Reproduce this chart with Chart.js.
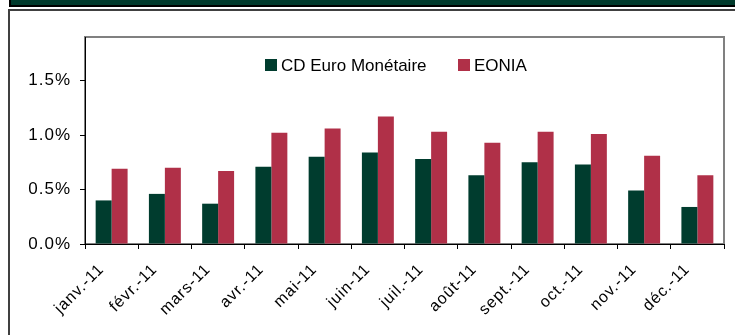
<!DOCTYPE html>
<html>
<head>
<meta charset="utf-8">
<script src="https://cdn.jsdelivr.net/npm/chart.js@4"></script>
<style>
  html, body { margin: 0; padding: 0; background: #ffffff; }
  canvas { display: block; }
</style>
</head>
<body>
<canvas id="c" width="735" height="335"></canvas>
<script>
// Monthly average rates, 2011 (in %)
const months = ['janv.-11', 'févr.-11', 'mars-11', 'avr.-11', 'mai-11', 'juin-11',
                'juil.-11', 'août-11', 'sept.-11', 'oct.-11', 'nov.-11', 'déc.-11'];
const cdEuroMonetaire = [0.40, 0.46, 0.37, 0.71, 0.80, 0.84, 0.78, 0.63, 0.75, 0.73, 0.49, 0.34];
const eonia          = [0.69, 0.70, 0.67, 1.02, 1.06, 1.17, 1.03, 0.93, 1.03, 1.01, 0.81, 0.63];
const yTickValues = [0, 0.5, 1.0, 1.5];
const seriesNames = ['CD Euro Monétaire', 'EONIA'];

const GREEN = '#003c2e';
const RED = '#b03048';
const FONT = '"Liberation Sans", Arial, sans-serif';

// Page decoration: header band, outer frame and plot-area frame
const framePlugin = {
  id: 'frames',
  beforeDraw(chart) {
    const ctx = chart.ctx;
    const a = chart.chartArea;
    ctx.save();
    // header band
    ctx.fillStyle = '#000000';
    ctx.fillRect(9, 0, chart.width - 9, 7);
    ctx.fillStyle = '#003a2c';
    ctx.fillRect(11, 0, chart.width - 11, 5);
    // outer frame (open to the right and bottom)
    ctx.strokeStyle = '#404040';
    ctx.lineWidth = 2;
    ctx.beginPath();
    ctx.moveTo(chart.width, 10);
    ctx.lineTo(9, 10);
    ctx.lineTo(9, chart.height);
    ctx.stroke();
    // plot area frame
    ctx.strokeStyle = '#808080';
    ctx.lineWidth = 2;
    ctx.strokeRect(a.left, a.top, a.right - a.left, a.bottom - a.top);
    ctx.restore();
    // wider character spacing for the axis labels
    ctx.letterSpacing = '1px';
  },
  beforeDatasetsDraw(chart) {
    chart.ctx.letterSpacing = '0px';
  }
};

// Legend drawn inside the plot area, from the dataset labels and colours
const innerLegend = {
  id: 'innerLegend',
  afterDatasetsDraw(chart) {
    const ctx = chart.ctx;
    const ds = chart.data.datasets;
    const starts = [265, 458];
    const y = 65;
    ctx.save();
    ctx.letterSpacing = '0px';
    ctx.font = '17px ' + FONT;
    ctx.textBaseline = 'middle';
    ctx.textAlign = 'left';
    ds.forEach((d, i) => {
      ctx.fillStyle = d.backgroundColor;
      ctx.fillRect(starts[i], y - 6, 12, 12);
      ctx.fillStyle = '#000000';
      ctx.fillText(d.label, starts[i] + 16, y + 1);
    });
    ctx.restore();
  }
};

new Chart(document.getElementById('c'), {
  type: 'bar',
  data: {
    labels: months,
    datasets: [
      { label: seriesNames[0], data: cdEuroMonetaire, backgroundColor: GREEN, borderWidth: 0 },
      { label: seriesNames[1], data: eonia, backgroundColor: RED, borderWidth: 0 }
    ]
  },
  options: {
    responsive: false,
    animation: false,
    layout: { padding: { top: 37, right: 11, left: 0, bottom: 0 } },
    datasets: { bar: { categoryPercentage: 0.6, barPercentage: 1.0 } },
    plugins: {
      legend: { display: false },
      tooltip: { enabled: false }
    },
    scales: {
      x: {
        grid: { display: true, drawOnChartArea: false, offset: true, tickLength: 5, color: '#000000', lineWidth: 1 },
        border: { display: true, color: '#000000', width: 1 },
        ticks: {
          minRotation: 45, maxRotation: 45, autoSkip: false,
          color: '#000000', font: { family: FONT, size: 16 }, padding: 11, labelOffset: -10
        },
        afterFit(scale) { scale.height = 91; }
      },
      y: {
        min: 0, max: 1.9,
        grid: { display: true, drawOnChartArea: false, tickLength: 5, color: '#000000', lineWidth: 1 },
        border: { display: true, color: '#000000', width: 1 },
        afterBuildTicks(scale) { scale.ticks = yTickValues.map(v => ({ value: v })); },
        ticks: {
          color: '#000000', font: { family: FONT, size: 17 }, padding: 9,
          callback: (v) => v.toFixed(1) + '%'
        },
        afterFit(scale) { scale.width = 85; }
      }
    }
  },
  plugins: [framePlugin, innerLegend]
});
</script>
</body>
</html>
